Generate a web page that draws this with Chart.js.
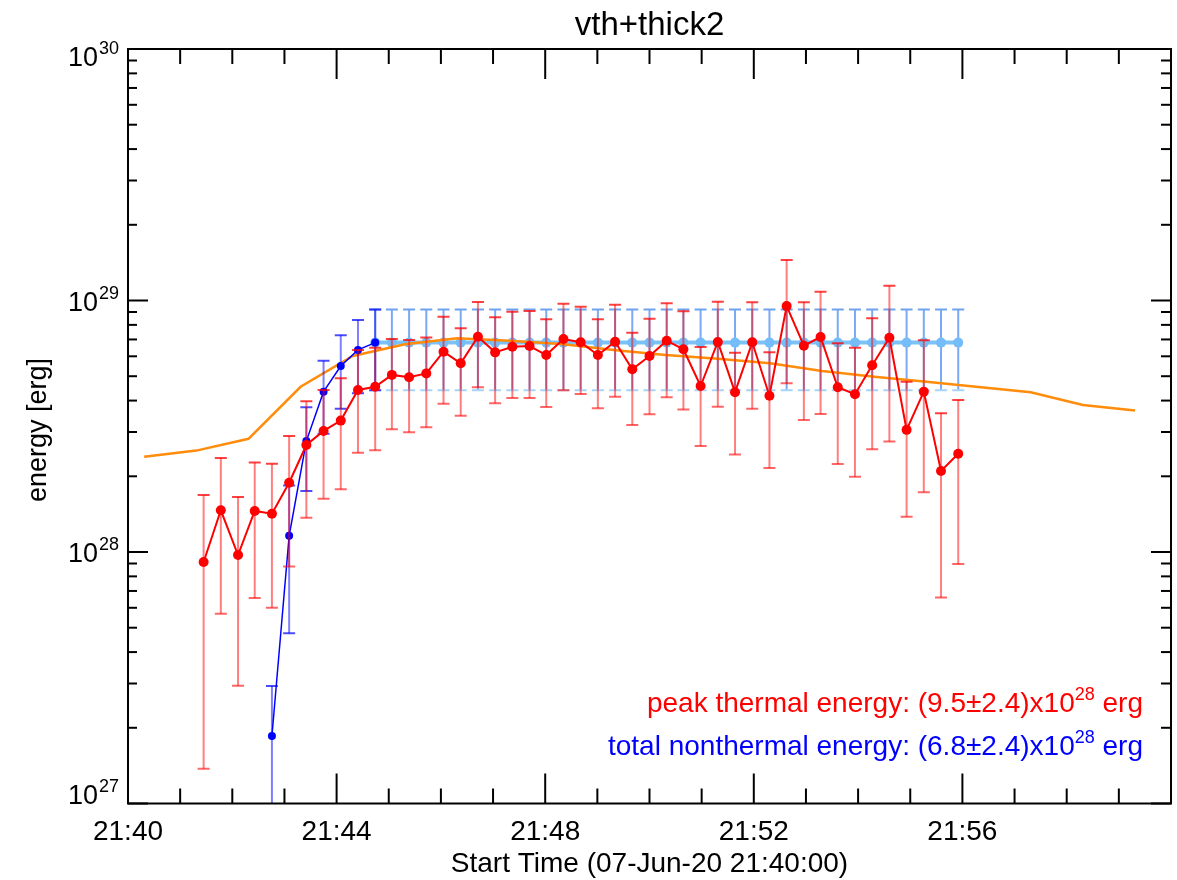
<!DOCTYPE html>
<html>
<head>
<meta charset="utf-8">
<title>vth+thick2</title>
<script src="https://cdn.jsdelivr.net/npm/chart.js@4.4.1/dist/chart.umd.min.js"></script>
<style>
  body { margin: 0; background: #fff; }
  #wrap { width: 1177px; height: 880px; }
</style>
</head>
<body>
<div id="wrap"><canvas id="myChart" width="1177" height="880"></canvas></div>
<script>
const FONT = "'Liberation Sans', Arial, Helvetica, sans-serif";
const E28 = 1e28;

// times are minutes after 21:40:00, energies in units of 1e28 erg
const redTimes = [1.45, 1.78, 2.11, 2.43, 2.76, 3.09, 3.42, 3.75, 4.08, 4.41,
  4.74, 5.06, 5.39, 5.72, 6.05, 6.38, 6.71, 7.04, 7.37, 7.70,
  8.02, 8.35, 8.68, 9.01, 9.34, 9.67, 10.00, 10.33, 10.65, 10.98,
  11.31, 11.64, 11.97, 12.30, 12.63, 12.96, 13.28, 13.61, 13.94, 14.27,
  14.60, 14.93, 15.26, 15.59, 15.92];
const redEnergy = [0.913, 1.465, 0.973, 1.456, 1.42, 1.886, 2.664, 3.03, 3.33, 4.41,
  4.54, 5.06, 4.95, 5.13, 6.26, 5.63, 7.18, 6.22, 6.55, 6.59,
  6.07, 7.03, 6.82, 6.07, 6.86, 5.33, 6.02, 6.92, 6.40, 4.57,
  6.84, 4.32, 6.82, 4.18, 9.5, 6.61, 7.16, 4.52, 4.24, 5.53,
  7.11, 3.06, 4.34, 2.10, 2.46];
const redHi = [1.685, 2.365, 1.655, 2.27, 2.245, 2.89, 3.98, 4.41, 4.91, 6.36,
  6.49, 7.03, 6.97, 7.13, 8.62, 7.75, 9.86, 8.58, 9.03, 9.08,
  8.42, 9.71, 9.45, 8.42, 9.62, 7.45, 8.47, 9.75, 9.06, 6.53,
  9.89, 6.20, 9.84, 6.22, 14.5, 9.84, 10.84, 6.76, 6.49, 8.50,
  11.45, 4.75, 6.95, 3.56, 4.02];
const redLo = [0.1375, 0.568, 0.294, 0.656, 0.60, 0.876, 1.369, 1.63, 1.776, 2.48,
  2.54, 3.08, 2.99, 3.13, 3.89, 3.48, 4.52, 3.90, 4.10, 4.10,
  3.77, 4.40, 4.25, 3.73, 4.14, 3.20, 3.53, 4.12, 3.69, 2.64,
  3.78, 2.44, 3.71, 2.16, 4.69, 3.35, 3.54, 2.24, 1.99, 2.56,
  2.75, 1.38, 1.73, 0.66, 0.896];

const blueTimes = [2.76, 3.09, 3.42, 3.75, 4.08, 4.41, 4.74];
const blueEnergy = [0.1855, 1.16, 2.76, 4.34, 5.49, 6.36, 6.8];
const blueHi = [0.293, 1.84, 3.76, 5.76, 7.27, 8.37, 9.2];
const blueLo = [0.05, 0.475, 1.75, 2.95, 3.71, 4.28, 4.4];

const totalTimes = [4.74, 5.06, 5.39, 5.72, 6.05, 6.38, 6.71, 7.04, 7.37, 7.70,
  8.02, 8.35, 8.68, 9.01, 9.34, 9.67, 10.00, 10.33, 10.65, 10.98,
  11.31, 11.64, 11.97, 12.30, 12.63, 12.96, 13.28, 13.61, 13.94, 14.27,
  14.60, 14.93, 15.26, 15.59, 15.92];
const totalEnergy = [6.8, 6.8, 6.8, 6.8, 6.8, 6.8, 6.8, 6.8, 6.8, 6.8,
  6.8, 6.8, 6.8, 6.8, 6.8, 6.8, 6.8, 6.8, 6.8, 6.8,
  6.8, 6.8, 6.8, 6.8, 6.8, 6.8, 6.8, 6.8, 6.8, 6.8,
  6.8, 6.8, 6.8, 6.8, 6.8];
const totalHi = [9.2, 9.2, 9.2, 9.2, 9.2, 9.2, 9.2, 9.2, 9.2, 9.2,
  9.2, 9.2, 9.2, 9.2, 9.2, 9.2, 9.2, 9.2, 9.2, 9.2,
  9.2, 9.2, 9.2, 9.2, 9.2, 9.2, 9.2, 9.2, 9.2, 9.2,
  9.2, 9.2, 9.2, 9.2, 9.2];
const totalLo = [4.4, 4.4, 4.4, 4.4, 4.4, 4.4, 4.4, 4.4, 4.4, 4.4,
  4.4, 4.4, 4.4, 4.4, 4.4, 4.4, 4.4, 4.4, 4.4, 4.4,
  4.4, 4.4, 4.4, 4.4, 4.4, 4.4, 4.4, 4.4, 4.4, 4.4,
  4.4, 4.4, 4.4, 4.4, 4.4];

const orangeTimes = [0.31, 1.31, 2.31, 3.31, 4.31, 5.31, 6.31, 7.31, 8.31, 9.31,
  10.31, 11.31, 12.31, 13.31, 14.31, 15.31, 16.31, 17.31, 18.31, 19.31];
const orangeEnergy = [2.39, 2.53, 2.82, 4.54, 6.02, 6.70, 7.07, 6.92, 6.71, 6.36,
  6.07, 5.87, 5.63, 5.24, 4.98, 4.75, 4.53, 4.32, 3.84, 3.65];

// axes
const xMin = 0, xMax = 20;
const xTickValues = [0, 4, 8, 12, 16];
const xTickLabels = ['21:40', '21:44', '21:48', '21:52', '21:56'];
const yDecades = [27, 28, 29, 30];

const titleText = 'vth+thick2';
const xTitle = 'Start Time (07-Jun-20 21:40:00)';
const yTitle = 'energy [erg]';
const peakText = ['peak thermal energy: (9.5\u00b12.4)x10', '28', ' erg'];
const totalText = ['total nonthermal energy: (6.8\u00b12.4)x10', '28', ' erg'];

function pts(times, vals) {
  return times.map((t, i) => ({ x: t, y: vals[i] * E28 }));
}

// error bars, drawn just under each dataset
const errorBars = {
  id: 'errorBars',
  beforeDatasetDraw(chart, args) {
    const ds = chart.data.datasets[args.index];
    if (!ds.errHi) return;
    const { ctx, chartArea: a, scales: { x, y } } = chart;
    ctx.save();
    ctx.beginPath();
    ctx.rect(a.left, a.top, a.right - a.left, a.bottom - a.top);
    ctx.clip();
    ctx.lineWidth = 2;
    ds.data.forEach((p, i) => {
      const px = x.getPixelForValue(p.x);
      const yh = y.getPixelForValue(ds.errHi[i] * E28);
      const yl = y.getPixelForValue(ds.errLo[i] * E28);
      ctx.strokeStyle = ds.barColor;
      ctx.beginPath(); ctx.moveTo(px, yh); ctx.lineTo(px, yl); ctx.stroke();
      ctx.strokeStyle = ds.capHiColor;
      ctx.beginPath(); ctx.moveTo(px - 6, yh); ctx.lineTo(px + 6, yh); ctx.stroke();
      ctx.strokeStyle = ds.capLoColor;
      ctx.beginPath(); ctx.moveTo(px - 6, yl); ctx.lineTo(px + 6, yl); ctx.stroke();
    });
    ctx.restore();
  }
};

function line(ctx, x1, y1, x2, y2) {
  ctx.beginPath(); ctx.moveTo(x1, y1); ctx.lineTo(x2, y2); ctx.stroke();
}

function supText(ctx, parts, right, base, size, color) {
  ctx.fillStyle = color;
  ctx.textAlign = 'left';
  ctx.textBaseline = 'alphabetic';
  const big = size + 'px ' + FONT, small = Math.round(size * 0.64) + 'px ' + FONT;
  ctx.font = big; const w0 = ctx.measureText(parts[0]).width;
  ctx.font = small; const w1 = ctx.measureText(parts[1]).width;
  ctx.font = big; const w2 = ctx.measureText(parts[2]).width;
  let xx = right - (w0 + w1 + w2);
  ctx.font = big; ctx.fillText(parts[0], xx, base); xx += w0;
  ctx.font = small; ctx.fillText(parts[1], xx, base - 12); xx += w1;
  ctx.font = big; ctx.fillText(parts[2], xx, base);
}

const frame = {
  id: 'frame',
  afterDraw(chart) {
    const { ctx, chartArea: a, scales: { x, y } } = chart;
    ctx.save();
    ctx.strokeStyle = '#000';
    ctx.lineWidth = 2;
    ctx.strokeRect(a.left, a.top, a.right - a.left, a.bottom - a.top);

    // time ticks, one a minute
    for (let m = xMin; m <= xMax; m++) {
      const px = x.getPixelForValue(m);
      const len = m % 4 === 0 ? 30 : 15;
      line(ctx, px, a.bottom, px, a.bottom - len);
      line(ctx, px, a.top, px, a.top + len);
    }
    // log ticks
    yDecades.forEach(d => {
      const py = y.getPixelForValue(Math.pow(10, d));
      line(ctx, a.left, py, a.left + 20, py);
      line(ctx, a.right, py, a.right - 20, py);
      if (d === yDecades[yDecades.length - 1]) return;
      for (let k = 2; k <= 9; k++) {
        const pm = y.getPixelForValue(k * Math.pow(10, d));
        line(ctx, a.left, pm, a.left + 9, pm);
        line(ctx, a.right, pm, a.right - 10, pm);
      }
    });

    ctx.fillStyle = '#000';
    ctx.textBaseline = 'alphabetic';
    // x tick labels
    ctx.font = '28px ' + FONT;
    ctx.textAlign = 'center';
    xTickValues.forEach((v, i) => {
      ctx.fillText(xTickLabels[i], x.getPixelForValue(v), 840);
    });
    ctx.fillText(xTitle, (a.left + a.right) / 2, 872);

    // y tick labels 10^n
    yDecades.forEach(d => {
      const py = y.getPixelForValue(Math.pow(10, d));
      const base = Math.min(Math.max(py + 10, a.top + 17), a.bottom);
      ctx.textAlign = 'right';
      ctx.font = '18px ' + FONT;
      const ew = ctx.measureText(String(d)).width;
      ctx.fillText(String(d), 119, base - 12);
      ctx.font = '27px ' + FONT;
      ctx.fillText('10', 119 - ew - 1, base);
    });

    // y title
    ctx.save();
    ctx.translate(46, 430);
    ctx.rotate(-Math.PI / 2);
    ctx.textAlign = 'center';
    ctx.font = '27px ' + FONT;
    ctx.fillText(yTitle, 0, 0);
    ctx.restore();

    // title
    ctx.textAlign = 'center';
    ctx.font = '33px ' + FONT;
    ctx.fillText(titleText, (a.left + a.right) / 2, 35);

    supText(ctx, peakText, 1143, 712, 28, '#ff0000');
    supText(ctx, totalText, 1143, 755, 28, '#0000ff');
    ctx.restore();
  }
};

const myChart = document.getElementById('myChart');

new Chart(myChart, {
  type: 'line',
  data: {
    datasets: [
      {
        label: 'thermal',
        data: pts(redTimes, redEnergy),
        errHi: redHi, errLo: redLo,
        barColor: 'rgba(255, 0, 0, 0.5)',
        capHiColor: 'rgba(255, 0, 0, 0.75)',
        capLoColor: 'rgba(255, 0, 0, 0.6)',
        borderColor: '#ff0000',
        backgroundColor: '#ff0000',
        borderWidth: 2,
        pointRadius: 5,
        pointBorderWidth: 0,
        tension: 0
      },
      {
        label: 'nonthermal',
        data: pts(blueTimes, blueEnergy),
        errHi: blueHi, errLo: blueLo,
        barColor: 'rgba(0, 0, 255, 0.5)',
        capHiColor: 'rgba(0, 0, 255, 0.7)',
        capLoColor: 'rgba(0, 0, 255, 0.7)',
        borderColor: '#0000ff',
        backgroundColor: '#0000ff',
        borderWidth: 1.5,
        pointRadius: 4,
        pointBorderWidth: 0,
        tension: 0
      },
      {
        label: 'goes',
        data: pts(orangeTimes, orangeEnergy),
        borderColor: '#ff8c0a',
        borderWidth: 2.5,
        pointRadius: 0,
        tension: 0
      },
      {
        label: 'total nonthermal',
        data: pts(totalTimes, totalEnergy),
        errHi: totalHi, errLo: totalLo,
        barColor: 'rgba(80, 140, 240, 0.75)',
        capHiColor: '#6fa3ef',
        capLoColor: '#a6d3f8',
        borderColor: '#7cc2f7',
        backgroundColor: '#74bdf8',
        borderWidth: 4,
        pointRadius: 5,
        pointBorderWidth: 0,
        tension: 0
      }
    ]
  },
  options: {
    responsive: false,
    animation: false,
    layout: { padding: { left: 128, right: 6, top: 49, bottom: 76.5 } },
    scales: {
      x: { type: 'linear', min: xMin, max: xMax, display: false },
      y: { type: 'logarithmic', min: 1e27, max: 1e30, display: false }
    },
    plugins: { legend: { display: false }, tooltip: { enabled: false } }
  },
  plugins: [errorBars, frame]
});
</script>
</body>
</html>
